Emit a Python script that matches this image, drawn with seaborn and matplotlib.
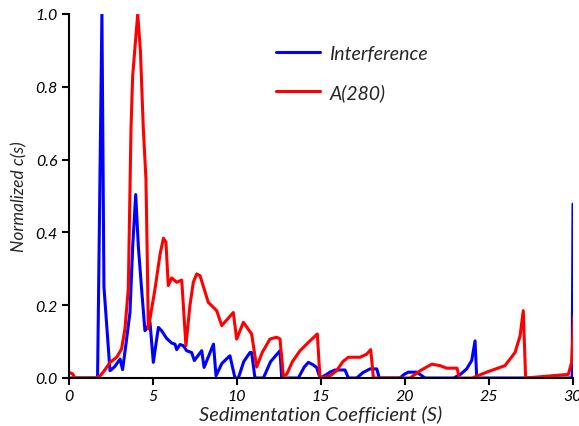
import matplotlib
matplotlib.use("Agg")
import matplotlib.pyplot as plt
import numpy as np
import pandas as pd
import seaborn as sns

# Interference (blue) c(s) trace
interf_s = [0.0, 1.7, 1.96, 2.08, 2.44, 2.7, 3.04, 3.19, 3.43, 3.63, 3.79, 3.97, 4.13,
            4.32, 4.52, 4.66, 4.82, 5.02, 5.32, 5.51, 5.81, 6.11, 6.31, 6.41, 6.61, 6.8,
            7.0, 7.3, 7.46, 7.9, 8.04, 8.6, 8.75, 9.1, 9.48, 9.58, 9.88, 10.08, 10.4,
            10.77, 10.87, 11.07, 11.57, 12.0, 12.56, 12.66, 13.65, 14.0, 14.25, 14.5,
            14.74, 14.94, 15.2, 15.54, 15.83, 16.43, 16.63, 17.12, 17.5, 17.92, 18.32,
            18.47, 19.7, 19.95, 20.2, 20.7, 20.95, 21.2, 22.9, 23.3, 23.67, 23.97, 24.17,
            24.27, 29.95, 30.0]
interf_c = [0.0, 0.0, 1.0, 0.25, 0.02, 0.03, 0.052, 0.023, 0.107, 0.18, 0.36, 0.504, 0.36,
            0.245, 0.13, 0.139, 0.153, 0.043, 0.139, 0.13, 0.109, 0.096, 0.093, 0.078, 0.092,
            0.089, 0.075, 0.07, 0.048, 0.075, 0.029, 0.093, 0.006, 0.04, 0.057, 0.061, 0.0,
            0.0, 0.045, 0.07, 0.07, 0.0, 0.0, 0.045, 0.075, 0.0, 0.0, 0.03, 0.043, 0.037,
            0.029, 0.0, 0.006, 0.016, 0.022, 0.022, 0.0, 0.0, 0.015, 0.025, 0.025, 0.0, 0.0,
            0.01, 0.016, 0.016, 0.008, 0.0, 0.0, 0.01, 0.025, 0.048, 0.102, 0.0, 0.0, 0.478]

# A(280) (red) c(s) trace
a280_s = [0.0, 0.22, 0.36, 1.6, 1.85, 2.1, 2.44, 2.84, 3.13, 3.33, 3.53, 3.69, 3.79, 4.09,
          4.25, 4.42, 4.58, 4.65, 4.72, 5.12, 5.42, 5.62, 5.77, 5.91, 6.11, 6.41, 6.71,
          6.96, 7.2, 7.4, 7.6, 7.8, 8.29, 8.79, 9.09, 9.78, 9.98, 10.38, 10.87, 11.17,
          11.5, 11.96, 12.36, 12.56, 12.76, 12.96, 13.3, 13.75, 14.3, 14.78, 14.94, 15.54,
          15.93, 16.3, 16.63, 17.32, 17.7, 17.96, 18.12, 20.3, 20.9, 21.59, 22.08, 22.48,
          23.1, 23.23, 24.0, 24.86, 25.95, 26.55, 26.85, 27.04, 27.18, 29.72, 29.92, 30.05]
a280_c = [0.016, 0.011, 0.0, 0.0, 0.006, 0.02, 0.043, 0.057, 0.08, 0.135, 0.245, 0.684,
          0.83, 1.0, 0.9, 0.689, 0.547, 0.354, 0.135, 0.245, 0.34, 0.384, 0.373, 0.254,
          0.275, 0.263, 0.269, 0.089, 0.2, 0.263, 0.286, 0.281, 0.208, 0.185, 0.144, 0.18,
          0.107, 0.153, 0.121, 0.03, 0.07, 0.107, 0.112, 0.107, 0.006, 0.01, 0.045, 0.075,
          0.1, 0.121, 0.0, 0.006, 0.02, 0.045, 0.057, 0.057, 0.065, 0.078, 0.0, 0.0, 0.02,
          0.038, 0.034, 0.027, 0.027, 0.0, 0.0, 0.016, 0.034, 0.07, 0.116, 0.185, 0.0, 0.01,
          0.043, 0.17]

x_ticks = [0, 5, 10, 15, 20, 25, 30]
y_ticks = [0.0, 0.2, 0.4, 0.6, 0.8, 1.0]

df = pd.concat([
    pd.DataFrame({"s": interf_s, "c": interf_c, "signal": "Interference"}),
    pd.DataFrame({"s": a280_s, "c": a280_c, "signal": "A(280)"}),
])

sns.set_style("ticks")
plt.rcParams["font.family"] = ["Lato", "DejaVu Sans"]

fig = plt.figure(figsize=(5.79, 4.27), dpi=100)
ax = fig.add_axes([69 / 579, 48 / 427, 504 / 579, 364 / 427])

sns.lineplot(data=df, x="s", y="c", hue="signal", palette={"Interference": "#0000ff", "A(280)": "#ff0000"},
             estimator=None, sort=False, linewidth=2.2, ax=ax)

ax.set_xlim(0, 30)
ax.set_ylim(0, 1.0)
ax.set_xticks(x_ticks)
ax.set_xticklabels([str(t) for t in x_ticks], fontstyle="italic", fontsize=11.5)
ax.set_yticks(y_ticks)
ax.set_yticklabels([f"{t:.1f}" for t in y_ticks], fontstyle="italic", fontsize=11.5)
ax.tick_params(direction="out", length=5, width=1.5, colors="black", pad=3)
sns.despine(ax=ax)
for sp in ["left", "bottom"]:
    ax.spines[sp].set_linewidth(1.5)
    ax.spines[sp].set_color("black")

ax.set_xlabel("Sedimentation Coefficient (S)", fontstyle="italic", fontsize=14.5, labelpad=1)
ax.set_ylabel("Normalized c(s)", fontstyle="italic", fontsize=12.5, labelpad=6)

leg = ax.legend(loc="upper left", bbox_to_anchor=(0.41, 0.915), frameon=False,
                prop={"style": "italic", "size": 14}, handlelength=2.27,
                handletextpad=0.5, labelspacing=1.1, borderpad=0, borderaxespad=0)
for h in leg.get_lines():
    h.set_linewidth(2.2)

fig.savefig("out.png", dpi=100)
